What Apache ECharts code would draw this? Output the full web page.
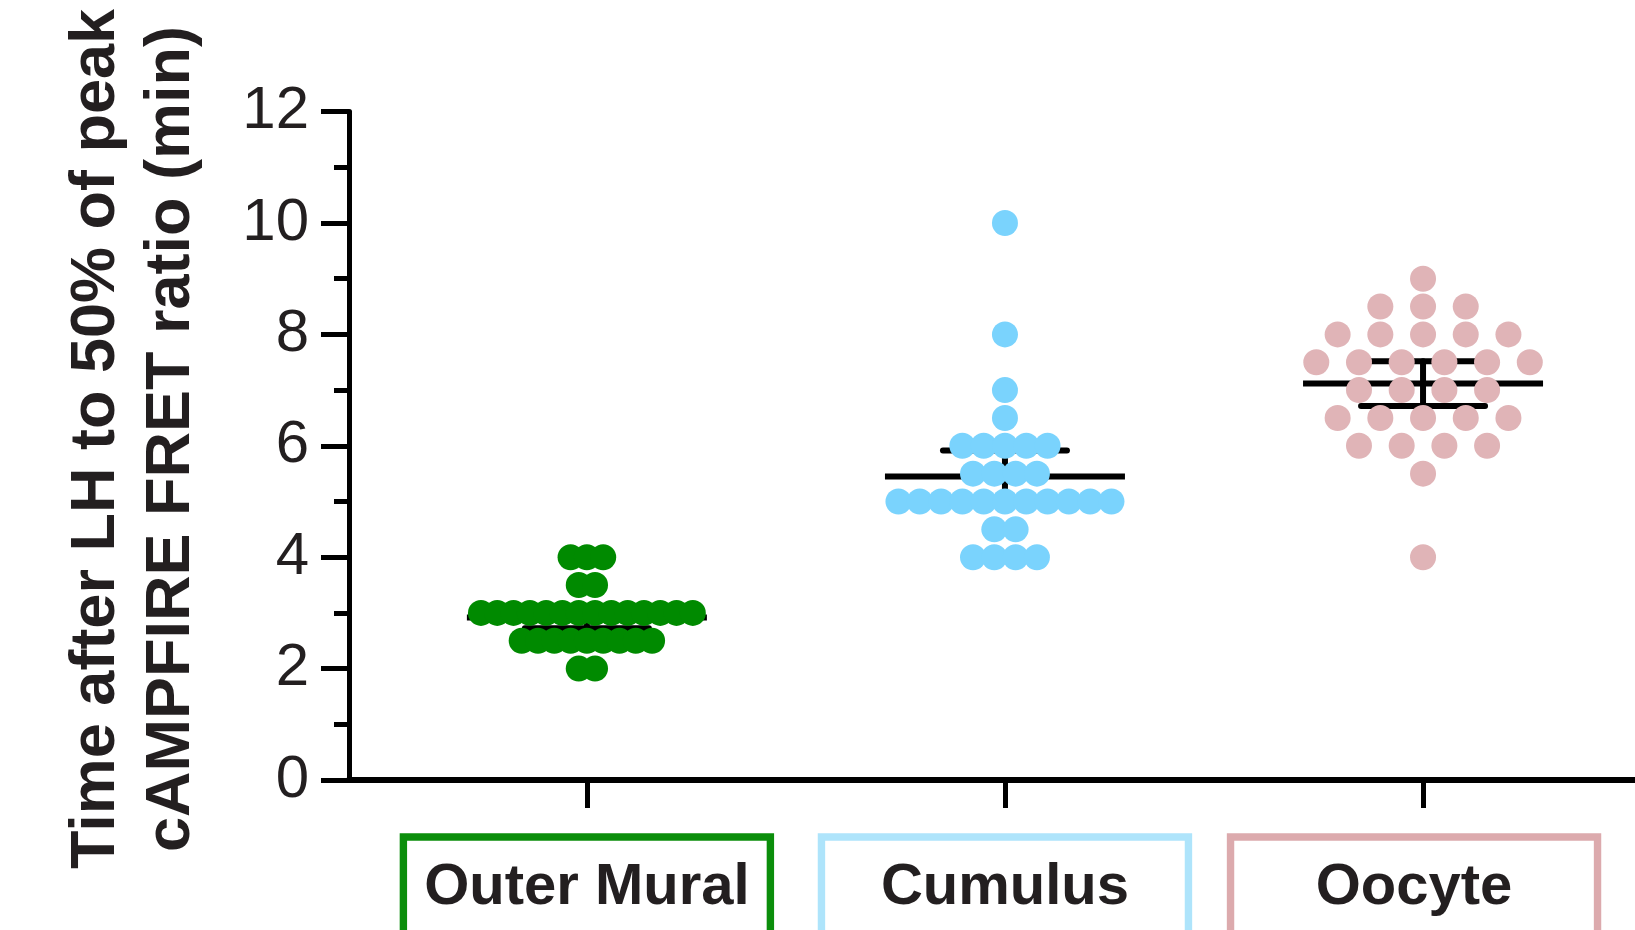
<!DOCTYPE html>
<html>
<head>
<meta charset="utf-8">
<script src="https://cdn.jsdelivr.net/npm/echarts@6/dist/echarts.min.js"></script>
<style>
  html, body { margin: 0; padding: 0; background: #ffffff; }
  #chart { width: 1635px; height: 930px; }
</style>
</head>
<body>
<div id="chart"></div>
<script>
// Groups shown along the x axis
const categories = ['Outer Mural', 'Cumulus', 'Oocyte'];

// Individual measurements (min) for each group
const outerMural = [
  4, 4, 4,
  3.5, 3.5,
  3, 3, 3, 3, 3, 3, 3, 3, 3, 3, 3, 3, 3, 3,
  2.5, 2.5, 2.5, 2.5, 2.5, 2.5, 2.5, 2.5, 2.5,
  2, 2
];
const cumulus = [
  10,
  8,
  7,
  6.5,
  6, 6, 6, 6, 6,
  5.5, 5.5, 5.5, 5.5,
  5, 5, 5, 5, 5, 5, 5, 5, 5, 5, 5,
  4.5, 4.5,
  4, 4, 4, 4
];
const oocyte = [
  9,
  8.5, 8.5, 8.5,
  8, 8, 8, 8, 8,
  7.5, 7.5, 7.5, 7.5, 7.5, 7.5,
  7, 7, 7, 7,
  6.5, 6.5, 6.5, 6.5, 6.5,
  6, 6, 6, 6,
  5.5,
  4
];

// Y axis tick values
const yTicks = [0, 2, 4, 6, 8, 10, 12];

const groups = [outerMural, cumulus, oocyte];
const dotColors = ['#008a00', '#7ad3fd', '#e0b4b7'];
const boxColors = ['#0b8e0b', '#aee4fb', '#dcaaad'];
const dotStep = [16.3, 21.3, 42.7];   // horizontal spacing between neighbouring dots, px

// layout of the plotting area
const GRID = { left: 349, right: 0, top: 111.6, bottom: 150 };
const X_MIN = -0.569, X_MAX = 2.507;
const pxPerUnit = (1635 - GRID.left - GRID.right) / (X_MAX - X_MIN);

// spread equal values side by side, centred on the group position
function swarm(values, gi) {
  const counts = {};
  values.forEach(v => { counts[v] = (counts[v] || 0) + 1; });
  const seen = {};
  return values.map(v => {
    const k = seen[v] = (seen[v] === undefined ? 0 : seen[v] + 1);
    const off = (k - (counts[v] - 1) / 2) * dotStep[gi] / pxPerUnit;
    return [gi + off, v];
  });
}

// mean with 95% confidence interval
const tCrit = 2.045; // t(0.975, df = 29)
function summary(values, gi) {
  const n = values.length;
  const mean = values.reduce((a, b) => a + b, 0) / n;
  const sd = Math.sqrt(values.reduce((a, b) => a + (b - mean) * (b - mean), 0) / (n - 1));
  const half = tCrit * sd / Math.sqrt(n);
  return [gi, mean, mean - half, mean + half];
}
const stats = groups.map(summary);

const ink = '#231f20';
const richLabels = {};
categories.forEach((c, i) => {
  richLabels['c' + i] = {
    width: 367,
    height: 70,
    lineHeight: 70,
    padding: [16, 0, 40, 0],
    align: 'center',
    borderColor: boxColors[i],
    borderWidth: 7.4,
    fontFamily: 'Liberation Sans',
    fontWeight: 'bold',
    fontSize: 58,
    color: ink
  };
});
richLabels.sp = { width: 18, height: 10 };

const chart = echarts.init(document.getElementById('chart'), null, { renderer: 'canvas' });

chart.setOption({
  backgroundColor: '#ffffff',
  animation: false,
  grid: Object.assign({ containLabel: false, outerBoundsMode: 'none' }, GRID),
  xAxis: {
    type: 'value',
    min: X_MIN,
    max: X_MAX,
    splitLine: { show: false },
    axisLine: { show: true, onZero: false, lineStyle: { color: '#000', width: 6 } },
    axisTick: {
      show: true,
      customValues: [0, 1, 2],
      length: 28,
      lineStyle: { color: '#000', width: 5 }
    },
    axisLabel: {
      show: true,
      customValues: [0, 1, 2],
      margin: 85,
      formatter: v => {
        const i = Math.round(v);
        return i === 2 ? `{c${i}|${categories[i]}}{sp|}` : `{c${i}|${categories[i]}}`;
      },
      rich: richLabels
    }
  },
  yAxis: {
    type: 'value',
    min: yTicks[0],
    max: yTicks[yTicks.length - 1],
    interval: yTicks[1] - yTicks[0],
    splitLine: { show: false },
    axisLine: { show: true, onZero: false, lineStyle: { color: '#000', width: 5 } },
    axisTick: { show: true, length: 28, lineStyle: { color: '#000', width: 5 } },
    minorTick: { show: true, splitNumber: 2, length: 15, lineStyle: { color: '#000', width: 5 } },
    axisLabel: {
      margin: 40,
      color: ink,
      fontFamily: 'Liberation Sans',
      fontSize: 60
    }
  },
  graphic: [{
    type: 'text',
    x: 134,
    y: 439,
    rotation: Math.PI / 2,
    style: {
      text: 'Time after LH to 50% of peak\ncAMPFIRE FRET ratio (min)',
      font: 'bold 63px "Liberation Sans"',
      fill: ink,
      align: 'center',
      verticalAlign: 'middle',
      lineHeight: 75
    }
  }],
  series: [
    {
      // mean line and 95% CI whiskers, drawn beneath the dots
      type: 'custom',
      z: 1,
      clip: false,
      data: stats,
      renderItem: (params, api) => {
        const gi = api.value(0);
        const m = api.coord([gi, api.value(1)]);
        const lo = api.coord([gi, api.value(2)]);
        const hi = api.coord([gi, api.value(3)]);
        const meanHalf = 120, capHalf = 62;
        const st = { stroke: '#000', lineWidth: 6, lineCap: 'round' };
        return {
          type: 'group',
          children: [
            { type: 'line', shape: { x1: m[0] - meanHalf, y1: m[1], x2: m[0] + meanHalf, y2: m[1] }, style: Object.assign({}, st, { lineCap: 'butt' }) },
            { type: 'line', shape: { x1: lo[0], y1: lo[1], x2: hi[0], y2: hi[1] }, style: st },
            { type: 'line', shape: { x1: lo[0] - capHalf, y1: lo[1], x2: lo[0] + capHalf, y2: lo[1] }, style: st },
            { type: 'line', shape: { x1: hi[0] - capHalf, y1: hi[1], x2: hi[0] + capHalf, y2: hi[1] }, style: st }
          ]
        };
      }
    }
  ].concat(groups.map((vals, gi) => ({
    type: 'scatter',
    name: categories[gi],
    z: 3,
    symbol: 'circle',
    symbolSize: 26,
    itemStyle: { color: dotColors[gi], opacity: 1 },
    emphasis: { disabled: true },
    data: swarm(vals, gi)
  })))
});
</script>
</body>
</html>
